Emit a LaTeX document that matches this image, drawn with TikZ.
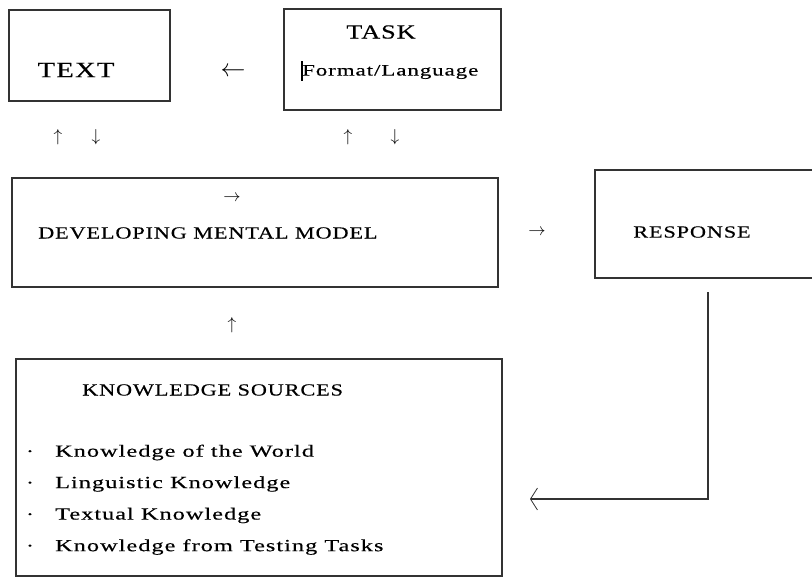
\documentclass[tikz,border=0pt]{standalone}
\usepackage{fontspec}
\setmainfont{Liberation Serif}[FakeStretch=1.31,LetterSpace=5,FakeBold=0.3]
\newfontfamily\itemfont{Liberation Serif}[FakeStretch=1.43,LetterSpace=6,FakeBold=0.3]
\usetikzlibrary{arrows.meta}
\begin{document}
\begin{tikzpicture}[x=1pt,y=-1pt,
  box/.style={draw=black!80,line width=1.1pt,inner sep=0pt,outer sep=0pt},
  lbl/.style={inner sep=0pt,font=\fontsize{17}{20}\selectfont},
  itm/.style={inner sep=0pt,font=\itemfont\fontsize{17}{20}\selectfont},
  big/.style={inner sep=0pt,font=\fontsize{22}{26}\selectfont},
  sym/.style={inner sep=0pt,font=\fontsize{17}{20}\selectfont},
  fb/.style={draw=black!80,line width=1.1pt,-{Straight Barb[length=7pt,width=22pt,line width=0.8pt]}}]
\useasboundingbox (0,0) rectangle (812,579);
\fill[white] (0,0) rectangle (812,579);
% boxes
\node[box,minimum width=161pt,minimum height=91pt] (textbox) at (89.5,55.5) {};
\node[box,minimum width=217pt,minimum height=101pt] (taskbox) at (392.5,59.5) {};
\node[box,minimum width=486pt,minimum height=109pt] (dmmbox) at (255,232.5) {};
\node[box,minimum width=235pt,minimum height=108pt] (respbox) at (712.5,224) {};
\node[box,minimum width=486pt,minimum height=217pt] (ksbox) at (259,467.5) {};
% texts
\node[big] (textlbl) at (76,70) {TEXT};
\node[big,font=\fontsize{20}{24}\selectfont] (tasklbl) at (381,32) {TASK};
\node[itm,font=\itemfont\fontsize{16}{20}\selectfont,anchor=west] (fmtlbl) at (302,72) {Format/Language};
\draw[line width=2pt,black] (301.5,61) -- (301.5,81);
\node[lbl,anchor=west] (dmmlbl) at (38,233) {DEVELOPING MENTAL MODEL};
\node[lbl] (resplbl) at (692,232) {RESPONSE};
\node[lbl,anchor=west] (kslbl) at (82,390) {KNOWLEDGE SOURCES};
\foreach \t [count=\i] in {Knowledge of the World,Linguistic Knowledge,Textual Knowledge,Knowledge from Testing Tasks}{
  \node[lbl] (dot\i) at (30,422+31.5*\i) {\textperiodcentered};
  \node[itm,anchor=west] (item\i) at (55,421+31.5*\i) {\t};
}
% arrow symbols
\node[inner sep=0pt,font=\fontsize{24}{26}\selectfont] (la) at (233,72) {$\leftarrow$};
\node[sym] (ua1) at (58,137) {$\uparrow$};
\node[sym] (da1) at (96,137) {$\downarrow$};
\node[sym] (ua2) at (348,137) {$\uparrow$};
\node[sym] (da2) at (395,137) {$\downarrow$};
\node[sym] (ra1) at (232,198) {$\rightarrow$};
\node[sym] (ra2) at (537,232) {$\rightarrow$};
\node[sym] (ua3) at (232,325) {$\uparrow$};
% feedback connector
\coordinate (fbtop) at (708,292);
\coordinate (fbend) at (530,499);
\draw[fb] (fbtop) |- (fbend);
\end{tikzpicture}
\end{document}
